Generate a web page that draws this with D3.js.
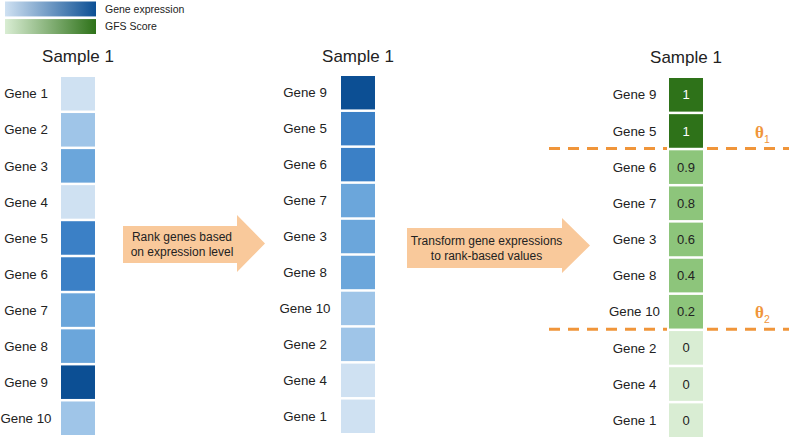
<!DOCTYPE html>
<html>
<head>
<meta charset="utf-8">
<script src="https://cdn.jsdelivr.net/npm/d3@7/dist/d3.min.js"></script>
<style>
  html, body { margin: 0; padding: 0; background: #fff; }
  svg { display: block; font-family: "Liberation Sans", Arial, sans-serif; }
</style>
</head>
<body>
<svg id="chart" width="789" height="438"></svg>
<script>
// ---- data ----
const columnTitle = "Sample 1";
const genes = ["Gene 1","Gene 2","Gene 3","Gene 4","Gene 5","Gene 6","Gene 7","Gene 8","Gene 9","Gene 10"];
const expressionLevel = [1, 2, 3, 1, 4, 4, 3, 3, 5, 2];
const rankedGenes = ["Gene 9","Gene 5","Gene 6","Gene 7","Gene 3","Gene 8","Gene 10","Gene 2","Gene 4","Gene 1"];
const gfsScores = [1, 1, 0.9, 0.8, 0.6, 0.4, 0.2, 0, 0, 0];
const thresholdLabels = ["1", "2"];
const thresholdAfter = ["Gene 5", "Gene 10"];
const legendLabels = ["Gene expression", "GFS Score"];
const arrowLines = [["Rank genes based", "on expression level"], ["Transform gene expressions", "to rank-based values"]];

// ---- styles ----
const blueStops = ["#cfe1f2", "#9fc5e8", "#6ba6db", "#3b80c6", "#0c4f94"];
const greenStops = ["#d9edd3", "#8dc57b", "#2e7219"];
const orange = "#f0953a";
const arrowFill = "#f9c99b";
const textColor = "#222";

const svg = d3.select("#chart");
const blue = d3.scaleLinear().domain([1, 2, 3, 4, 5]).range(blueStops);
const green = d3.scaleThreshold().domain([0.1, 0.95]).range(greenStops);

// ---- legend ----
const defs = svg.append("defs");
const grads = [
  { id: "gBlue", from: blueStops[0], to: blueStops[4] },
  { id: "gGreen", from: greenStops[0], to: greenStops[2] }
];
grads.forEach(g => {
  const lg = defs.append("linearGradient").attr("id", g.id).attr("x1", "0%").attr("x2", "100%");
  lg.append("stop").attr("offset", "0%").attr("stop-color", g.from);
  lg.append("stop").attr("offset", "100%").attr("stop-color", g.to);
});
const legendY = d3.scaleBand().domain(legendLabels).range([1.5, 34]).paddingInner(0.15);
legendLabels.forEach((lab, i) => {
  svg.append("rect").attr("x", 5).attr("y", legendY(lab)).attr("width", 91)
    .attr("height", legendY.bandwidth()).attr("fill", `url(#${grads[i].id})`);
  svg.append("text").attr("x", 105).attr("y", legendY(lab) + legendY.bandwidth() / 2)
    .attr("dy", "0.35em").attr("font-size", 10.5).attr("fill", textColor).text(lab);
});

// ---- columns ----
function drawColumn(cfg) {
  const y = d3.scaleBand().domain(cfg.order).range([cfg.y0, cfg.y1]).paddingInner(0.07);
  const g = svg.append("g");
  g.append("text").attr("x", cfg.cellX + cfg.cellW / 2).attr("y", cfg.titleY)
    .attr("text-anchor", "middle").attr("font-size", 17).attr("fill", textColor).text(columnTitle);
  g.selectAll("rect.cell").data(cfg.order).join("rect").attr("class", "cell")
    .attr("x", cfg.cellX).attr("y", d => y(d)).attr("width", cfg.cellW).attr("height", y.bandwidth())
    .attr("fill", (d, i) => cfg.color(d, i));
  g.selectAll("text.lab").data(cfg.order).join("text").attr("class", "lab")
    .attr("x", cfg.labelX).attr("y", d => y(d) + y.bandwidth() / 2).attr("dy", "0.35em")
    .attr("text-anchor", "middle").attr("font-size", 13.3).attr("fill", textColor).text(d => d);
  return y;
}

drawColumn({
  order: genes, y0: 77, y1: 435, cellX: 61, cellW: 34, labelX: 26, titleY: 62,
  color: d => blue(expressionLevel[genes.indexOf(d)])
});
drawColumn({
  order: rankedGenes, y0: 76, y1: 433, cellX: 341, cellW: 34, labelX: 305, titleY: 62,
  color: d => blue(expressionLevel[genes.indexOf(d)])
});
const yR = drawColumn({
  order: rankedGenes, y0: 78, y1: 437, cellX: 669, cellW: 34, labelX: 634.5, titleY: 63,
  color: (d, i) => green(gfsScores[i])
});
svg.selectAll("text.score").data(rankedGenes).join("text").attr("class", "score")
  .attr("x", 669 + 17).attr("y", d => yR(d) + yR.bandwidth() / 2).attr("dy", "0.35em")
  .attr("text-anchor", "middle").attr("font-size", 13)
  .attr("fill", (d, i) => gfsScores[i] >= 0.95 ? "#fff" : textColor)
  .text((d, i) => String(gfsScores[i]));

// ---- thresholds ----
const gapHalf = yR.step() * yR.paddingInner() / 2;
thresholdAfter.forEach((gene, i) => {
  const ly = yR(gene) + yR.bandwidth() + gapHalf - 0.5;
  [[549, 667], [707, 789]].forEach(seg => {
    svg.append("line").attr("x1", seg[0]).attr("x2", seg[1]).attr("y1", ly).attr("y2", ly)
      .attr("stroke", orange).attr("stroke-width", 3).attr("stroke-dasharray", "11,8");
  });
  const t = svg.append("text").attr("x", 755).attr("y", ly - 11)
    .attr("fill", orange).attr("font-family", "'Liberation Serif', serif").attr("font-weight", "bold");
  t.append("tspan").attr("font-size", 17).text("θ");
  t.append("tspan").attr("font-size", 10.5).attr("dy", 5).attr("font-family", "'Liberation Sans', sans-serif")
    .attr("font-weight", "normal").text(thresholdLabels[i]);
});

// ---- arrows ----
const arrows = [
  { x0: 123, xh: 237, x1: 265, bt: 226, bb: 263, ht: 215, hb: 272 },
  { x0: 407, xh: 562, x1: 590, bt: 228, bb: 268, ht: 218, hb: 273 }
];
arrows.forEach((a, i) => {
  const cy = (a.ht + a.hb) / 2;
  const pts = [[a.x0, a.bt], [a.xh, a.bt], [a.xh, a.ht], [a.x1, cy], [a.xh, a.hb], [a.xh, a.bb], [a.x0, a.bb]];
  svg.append("path").attr("d", d3.line()(pts) + "Z").attr("fill", arrowFill);
  const tcx = (a.x0 + a.xh) / 2 + 2;
  const tcy = (a.bt + a.bb) / 2;
  arrowLines[i].forEach((ln, j) => {
    svg.append("text").attr("x", tcx).attr("y", tcy + (j - 0.5) * 15).attr("dy", "0.35em")
      .attr("text-anchor", "middle").attr("font-size", 12).attr("fill", textColor).text(ln);
  });
});
</script>
</body>
</html>
